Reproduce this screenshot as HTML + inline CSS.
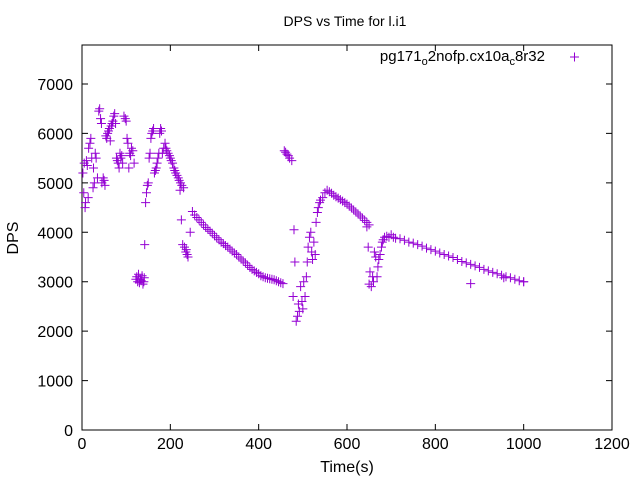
<!DOCTYPE html>
<html><head><meta charset="utf-8"><style>
body{margin:0;background:#fff}
svg{font-family:"Liberation Sans",sans-serif;font-size:16px}
</style></head><body>
<svg id="chart" width="640" height="480">
<text x="345" y="26" text-anchor="middle" font-size="14">DPS vs Time for l.i1</text>
<text x="347" y="472" text-anchor="middle">Time(s)</text>
<text transform="translate(18,238) rotate(-90)" text-anchor="middle">DPS</text>
<g id="axes"></g>
<g id="pts"></g>
<g>
<text x="545" y="61" text-anchor="end" font-size="15">pg171<tspan font-size="11" dy="4">o</tspan><tspan dy="-4">2nofp.cx10a</tspan><tspan font-size="11" dy="4">c</tspan><tspan dy="-4">8r32</tspan></text>
<path d="M570 57h9M574.5 52.5v9" stroke="#9400d3" stroke-width="1"/>
</g>
</svg>
<script>
const xTicks=[0,200,400,600,800,1000,1200];
const yTicks=[0,1000,2000,3000,4000,5000,6000,7000];
const times=[2,4,5,7,8,10,12,14,15,18,20,22,25,26,28,30,32,35,38,40,42,44,45,48,50,52,54,56,58,60,62,64,66,68,70,72,74,76,78,80,82,84,86,88,90,92,95,98,100,102,104,106,108,110,112,115,118,
122,124,126,128,130,132,134,136,138,140,142,141,144,146,148,150,152,154,156,158,160,162,164,166,168,170,172,174,176,178,180,182,
185,188,190,192,195,198,200,202,205,208,210,212,215,218,220,223,226,230,
222,225,228,232,235,238,240,236,
245,250,255,260,265,270,275,280,285,290,295,300,305,310,315,320,325,330,335,340,345,350,355,360,365,370,375,380,385,390,395,400,405,410,415,420,425,430,435,440,445,450,
455,458,461,464,467,470,
475,478,480,482,485,488,490,492,495,498,500,502,505,508,
510,512,515,518,520,522,525,528,530,533,535,538,
540,545,550,555,560,565,570,575,580,585,590,595,600,605,610,615,620,625,630,635,640,645,650,
645,648,650,652,655,658,660,662,
665,668,670,672,675,678,680,682,685,
690,695,700,705,710,720,730,740,750,760,770,780,790,800,810,820,830,840,850,860,870,880,890,900,910,920,930,940,950,960,970,980,990,1000,880,955,1000];
const dps=[5200,4800,5400,4500,4600,5450,5350,4700,5700,5800,5900,5500,4900,5300,5000,5600,5500,5100,6450,6500,6300,6200,5000,5100,5050,4950,5950,5900,6000,6050,6100,5850,6150,6200,6250,6350,6400,6200,5500,5450,5400,5300,5600,5500,5550,5400,6350,6300,6250,5900,5800,5300,5600,5550,5700,5650,5400,
3050,3100,3000,3150,2980,3050,3020,3120,2950,3000,3750,3080,4600,4800,4950,5000,5500,5600,5900,6000,6050,6100,5200,5250,5300,5400,5500,5600,6000,6100,6050,5600,5700,
5800,5700,5650,5600,5550,5500,5450,5400,5300,5250,5200,5150,5100,5050,5000,4950,4900,4850,
4250,3750,3700,3600,3550,3500,3650,4000,
4420,4350,4300,4250,4200,4150,4100,4060,4020,3980,3930,3890,3850,3800,3770,3730,3700,3660,3620,3580,3550,3500,3460,3420,3380,3330,3290,3250,3220,3190,3160,3120,3100,3080,3070,3060,3050,3040,3020,3000,2980,2960,
5650,5620,5580,5550,5500,5450,
2700,4050,3400,2200,2300,2550,2400,2900,2600,2450,3000,2700,3100,3400,
3700,3900,4000,3600,3450,3800,3550,4200,4400,4500,4600,4650,
4700,4800,4850,4820,4790,4750,4720,4690,4660,4630,4600,4570,4530,4490,4450,4410,4370,4330,4290,4240,4200,4150,4110,
3700,2950,3200,2900,3100,3000,3600,3500,
3100,3300,3450,3550,3700,3800,3850,3900,3920,
3900,3950,3900,3880,3870,3840,3800,3780,3750,3720,3680,3650,3620,3580,3550,3520,3490,3450,3410,3380,3350,3320,3290,3250,3220,3190,3160,3130,3100,3080,3050,3020,3000,2960,3080,3000,1450];
const X=t=>82+t*530/1200, Y=v=>430-v*49.43/1000;
const NS='http://www.w3.org/2000/svg';
const ax=document.getElementById('axes');
function mk(tag,attrs,parent){const e=document.createElementNS(NS,tag);for(const k in attrs)e.setAttribute(k,attrs[k]);parent.appendChild(e);return e;}
const frame=mk('rect',{x:82,y:45,width:530,height:385,fill:'none',stroke:'#000','stroke-width':1},ax);


xTicks.forEach(t=>{const x=X(t);
 const l=mk('path',{d:`M${x} 430v-6M${x} 45v6`,stroke:'#000'},ax);
 
 
 const tx=mk('text',{x:x,y:449,'text-anchor':'middle'},ax);tx.textContent=t;
 
 });
yTicks.forEach(v=>{const y=Y(v);
 const l=mk('path',{d:`M82 ${y}h6M612 ${y}h-6`,stroke:'#000'},ax);
 
 
 const tx=mk('text',{x:73,y:y+6,'text-anchor':'end'},ax);tx.textContent=v;
 
 });
const g=document.getElementById('pts');
times.forEach((t,i)=>{const x=X(t),y=Y(dps[i]);
 const p=mk('path',{d:`M${x-4.5} ${y}h9M${x} ${y-4.5}v9`,stroke:'#9400d3','stroke-width':1},g);
 
 });
</script>
</body></html>
